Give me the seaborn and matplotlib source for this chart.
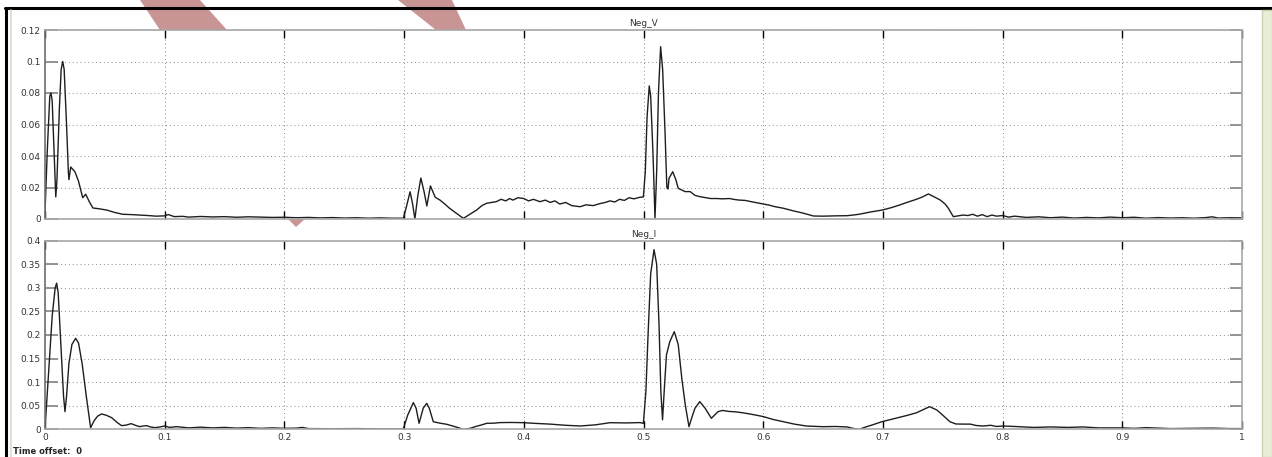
import matplotlib
matplotlib.use("Agg")
import matplotlib.pyplot as plt
import seaborn as sns
from matplotlib.patches import Polygon, Rectangle
from matplotlib.lines import Line2D

# ---------------- data ----------------
t_v = [0.0, 0.002, 0.004, 0.005, 0.006, 0.0075, 0.009, 0.010, 0.012, 0.0135, 0.0148, 0.016, 0.018,
       0.0195, 0.020, 0.0215, 0.025, 0.028, 0.0315, 0.034, 0.037, 0.040, 0.045, 0.0515, 0.058, 0.065,
       0.072, 0.079, 0.086, 0.093, 0.100, 0.103, 0.108, 0.115, 0.12, 0.13, 0.14, 0.15, 0.16, 0.17,
       0.18, 0.19, 0.20, 0.21, 0.22, 0.23, 0.24, 0.25, 0.26, 0.27, 0.28, 0.29, 0.2994,
       0.302, 0.305, 0.307, 0.309, 0.3115, 0.314, 0.3165, 0.319, 0.322, 0.326, 0.330, 0.334, 0.338,
       0.344, 0.3495, 0.355, 0.3606, 0.365, 0.369, 0.373, 0.377, 0.381, 0.385, 0.388, 0.391, 0.395,
       0.400, 0.404, 0.408, 0.4135, 0.418, 0.422, 0.426, 0.430, 0.435, 0.440, 0.447, 0.452, 0.458,
       0.4637, 0.468, 0.472, 0.476, 0.480, 0.484, 0.488, 0.492, 0.497, 0.4999,
       0.5015, 0.503, 0.5048, 0.506, 0.508, 0.5096, 0.511, 0.5125, 0.5143, 0.516, 0.518, 0.5195,
       0.5205, 0.5213, 0.5244, 0.527, 0.529, 0.5347, 0.539, 0.543, 0.547, 0.552, 0.556, 0.561,
       0.566, 0.572, 0.575, 0.580, 0.585, 0.590, 0.597, 0.605, 0.610, 0.617, 0.625, 0.633, 0.642,
       0.650, 0.660, 0.670, 0.675, 0.680, 0.690, 0.6995, 0.707, 0.714, 0.720, 0.728, 0.733, 0.738,
       0.743, 0.748, 0.752, 0.7547, 0.7588, 0.763, 0.767, 0.771, 0.775, 0.779, 0.783, 0.787, 0.791,
       0.795, 0.800, 0.805, 0.810, 0.820, 0.830, 0.840, 0.850, 0.860, 0.870, 0.880, 0.890, 0.900,
       0.910, 0.920, 0.930, 0.940, 0.950, 0.960, 0.970, 0.975, 0.980, 0.990, 1.000]
neg_v = [0.004, 0.045, 0.078, 0.080, 0.075, 0.045, 0.014, 0.025, 0.070, 0.095, 0.100, 0.095, 0.060,
         0.030, 0.025, 0.033, 0.030, 0.024, 0.0135, 0.0157, 0.011, 0.007, 0.0065, 0.0057, 0.0042, 0.003,
         0.0028, 0.0025, 0.0022, 0.0018, 0.002, 0.0028, 0.0015, 0.0017, 0.0012, 0.0016, 0.0013, 0.0015, 0.0011, 0.0014,
         0.0012, 0.0010, 0.0011, 0.0008, 0.0010, 0.0007, 0.0009, 0.0006, 0.0008, 0.0005, 0.0007, 0.0005, 0.0005,
         0.008, 0.0173, 0.010, 0.0, 0.015, 0.026, 0.018, 0.0083, 0.021, 0.0138, 0.012, 0.0095, 0.0068,
         0.0035, 0.0004, 0.003, 0.0057, 0.0085, 0.010, 0.0105, 0.011, 0.0125, 0.0115, 0.013, 0.012, 0.0135,
         0.013, 0.0115, 0.0125, 0.011, 0.012, 0.0105, 0.0115, 0.0095, 0.0105, 0.0085, 0.0078, 0.009, 0.0085,
         0.0098, 0.0105, 0.0115, 0.0108, 0.0125, 0.0118, 0.0135, 0.0128, 0.0138, 0.014,
         0.030, 0.065, 0.0845, 0.078, 0.040, 0.0004, 0.030, 0.080, 0.1094, 0.095, 0.055, 0.020,
         0.019, 0.0258, 0.030, 0.025, 0.0195, 0.0174, 0.0174, 0.015, 0.0142, 0.0135, 0.013, 0.013,
         0.0128, 0.013, 0.0125, 0.012, 0.0118, 0.011, 0.010, 0.0088, 0.0078, 0.0068, 0.0052, 0.0038, 0.0019,
         0.0018, 0.002, 0.0021, 0.0025, 0.003, 0.0045, 0.0057, 0.0072, 0.0089, 0.0105, 0.0125, 0.014, 0.0159,
         0.014, 0.012, 0.0095, 0.0068, 0.0015, 0.002, 0.0025, 0.0022, 0.003, 0.0018, 0.0028, 0.0015, 0.0025,
         0.0018, 0.0022, 0.0012, 0.0018, 0.001, 0.0014, 0.0008, 0.0012, 0.0006, 0.001, 0.0007, 0.0012, 0.0008,
         0.0011, 0.0005, 0.0009, 0.0006, 0.0008, 0.0005, 0.0009, 0.0014, 0.0006, 0.0008, 0.0007]

t_i = [0.0, 0.003, 0.006, 0.0085, 0.0097, 0.011, 0.0135, 0.0155, 0.0167, 0.018, 0.020, 0.0225, 0.0256,
       0.028, 0.031, 0.0345, 0.0381, 0.041, 0.044, 0.0473, 0.051, 0.0557, 0.060, 0.064, 0.068, 0.072,
       0.076, 0.079, 0.082, 0.085, 0.088, 0.092, 0.096, 0.100, 0.104, 0.110, 0.120, 0.130, 0.140, 0.150,
       0.160, 0.170, 0.180, 0.190, 0.200, 0.210, 0.215, 0.220, 0.240, 0.260, 0.280, 0.2993,
       0.303, 0.3077, 0.310, 0.3125, 0.316, 0.3189, 0.321, 0.3244, 0.330, 0.3356, 0.342, 0.3495, 0.355,
       0.360, 0.365, 0.369, 0.375, 0.380, 0.390, 0.400, 0.410, 0.422, 0.435, 0.447, 0.460, 0.472, 0.485,
       0.497, 0.4999,
       0.502, 0.5038, 0.506, 0.5088, 0.511, 0.513, 0.5145, 0.5159, 0.5175, 0.5192, 0.522, 0.5257, 0.529,
       0.532, 0.535, 0.538, 0.541, 0.543, 0.547, 0.5515, 0.5567, 0.5623, 0.566, 0.571, 0.577, 0.583,
       0.590, 0.600, 0.608, 0.617, 0.626, 0.636, 0.650, 0.660, 0.670, 0.675, 0.680, 0.6865, 0.692, 0.699,
       0.707, 0.714, 0.721, 0.728, 0.734, 0.739, 0.745, 0.750, 0.756, 0.761, 0.767, 0.773, 0.778, 0.784,
       0.790, 0.795, 0.800, 0.810, 0.826, 0.840, 0.855, 0.867, 0.880, 0.900, 0.910, 0.920, 0.940, 0.960,
       0.975, 0.990, 1.000]
neg_i = [0.0, 0.12, 0.24, 0.30, 0.310, 0.29, 0.17, 0.07, 0.0374, 0.07, 0.14, 0.18, 0.193,
         0.183, 0.14, 0.07, 0.0034, 0.018, 0.028, 0.0325, 0.030, 0.0247, 0.015, 0.0077, 0.009, 0.012,
         0.008, 0.0056, 0.007, 0.0077, 0.005, 0.0035, 0.005, 0.007, 0.004, 0.0056, 0.003, 0.0045, 0.003, 0.004,
         0.0025, 0.0035, 0.002, 0.003, 0.002, 0.0025, 0.004, 0.0015, 0.0012, 0.0015, 0.0008, 0.0008,
         0.03, 0.0566, 0.045, 0.0127, 0.045, 0.055, 0.045, 0.016, 0.013, 0.0106, 0.006, 0.0, 0.002,
         0.006, 0.0095, 0.0127, 0.013, 0.0142, 0.0145, 0.014, 0.0125, 0.011, 0.0085, 0.007, 0.0095, 0.014, 0.0135,
         0.0142, 0.0127,
         0.08, 0.20, 0.33, 0.381, 0.35, 0.22, 0.08, 0.02, 0.09, 0.158, 0.186, 0.207, 0.18,
         0.108, 0.05, 0.0056, 0.03, 0.0446, 0.0587, 0.0446, 0.0233, 0.0375, 0.040, 0.038, 0.037, 0.035,
         0.032, 0.027, 0.021, 0.016, 0.011, 0.007, 0.0055, 0.006, 0.005, 0.002, 0.0, 0.0056, 0.010, 0.016,
         0.021, 0.0255, 0.030, 0.035, 0.042, 0.048, 0.041, 0.030, 0.016, 0.0113, 0.011, 0.011, 0.008, 0.007,
         0.0085, 0.006, 0.007, 0.006, 0.004, 0.005, 0.004, 0.005, 0.003, 0.003, 0.002, 0.0035, 0.0015, 0.002,
         0.0025, 0.0015, 0.0015]

x_ticks = [0, 0.1, 0.2, 0.3, 0.4, 0.5, 0.6, 0.7, 0.8, 0.9, 1.0]
x_labels = ["0", "0.1", "0.2", "0.3", "0.4", "0.5", "0.6", "0.7", "0.8", "0.9", "1"]
v_ticks = [0, 0.02, 0.04, 0.06, 0.08, 0.10, 0.12]
v_labels = ["0", "0.02", "0.04", "0.06", "0.08", "0.1", "0.12"]
i_ticks = [0, 0.05, 0.10, 0.15, 0.20, 0.25, 0.30, 0.35, 0.40]
i_labels = ["0", "0.05", "0.1", "0.15", "0.2", "0.25", "0.3", "0.35", "0.4"]

# ---------------- figure ----------------
sns.set_style("white")
plt.rcParams["font.family"] = ["DejaVu Sans"]

W, H = 1272, 457
fig = plt.figure(figsize=(W / 100, H / 100), dpi=100)
fig.patch.set_facecolor("white")

def fx(px):
    return px / W

def fy(py):
    return 1 - py / H

# decorative page elements (frame, scrollbar, watermark pieces)
fig.add_artist(Line2D([fx(5), 1.0], [fy(8), fy(8)], transform=fig.transFigure, color="black", lw=2.2, zorder=-1))
fig.add_artist(Line2D([fx(6), fx(6)], [fy(8), 0.0], transform=fig.transFigure, color="black", lw=2.2, zorder=-1))
fig.add_artist(Line2D([fx(11), fx(11)], [fy(10), 0.0], transform=fig.transFigure, color="#d6dcc8", lw=1.2, zorder=-1))
fig.add_artist(Rectangle((fx(1262), 0), fx(10), fy(10), transform=fig.transFigure,
                         facecolor="#e9eed8", edgecolor="#c8d2b0", lw=1, zorder=-1))
wm = "#c99594"
for pts in ([(140, 0), (200, 0), (227, 30), (160, 30)],
            [(398, 0), (452, 0), (466, 30), (436, 30)],
            [(288, 219), (305, 219), (296, 227)]):
    fig.add_artist(Polygon([(fx(a), fy(b)) for a, b in pts], closed=True, transform=fig.transFigure,
                           facecolor=wm, edgecolor="none", zorder=-2))

ax1 = fig.add_axes([fx(45), fy(219), fx(1242) - fx(45), fy(30) - fy(219)])
ax2 = fig.add_axes([fx(45), fy(429.3), fx(1242) - fx(45), fy(240.7) - fy(429.3)])

line_color = "#1e1e1e"
sns.lineplot(x=t_v, y=neg_v, ax=ax1, color=line_color, lw=1.0, estimator=None)
sns.lineplot(x=t_i, y=neg_i, ax=ax2, color=line_color, lw=1.0, estimator=None)

for ax, yt, yl, ymax, title in ((ax1, v_ticks, v_labels, 0.12, "Neg_V"),
                                 (ax2, i_ticks, i_labels, 0.40, "Neg_I")):
    ax.set_facecolor("white")
    ax.set_xlim(0, 1)
    ax.set_ylim(0, ymax)
    ax.set_xticks(x_ticks)
    ax.set_xticklabels(x_labels)
    ax.set_yticks(yt)
    ax.set_yticklabels(yl)
    ax.grid(True, linestyle=(0, (1, 3)), color="#8a8a8a", lw=0.7)
    ax.set_axisbelow(True)
    ax.tick_params(axis="x", direction="in", length=6, width=1.0, color="black",
                   top=True, bottom=True, labelsize=6.5, pad=3, labelcolor="#333333")
    ax.tick_params(axis="y", direction="in", length=9, width=1.3, color="#8c8c8c",
                   left=True, right=True, labelsize=6.5, pad=3, labelcolor="#333333")
    for s in ax.spines.values():
        s.set_color("#a8a8a8")
        s.set_linewidth(1.2)
    ax.spines["left"].set_color("#707070")
    ax.set_xlabel("")
    ax.set_ylabel("")
    ax.set_title(title, fontsize=6.5, pad=3, color="#333333")

ax1.tick_params(axis="x", labelbottom=False)

fig.text(fx(13), fy(451), "Time offset:  0", fontsize=6, fontweight="bold", va="center", ha="left")

fig.savefig("out.png", dpi=100)
